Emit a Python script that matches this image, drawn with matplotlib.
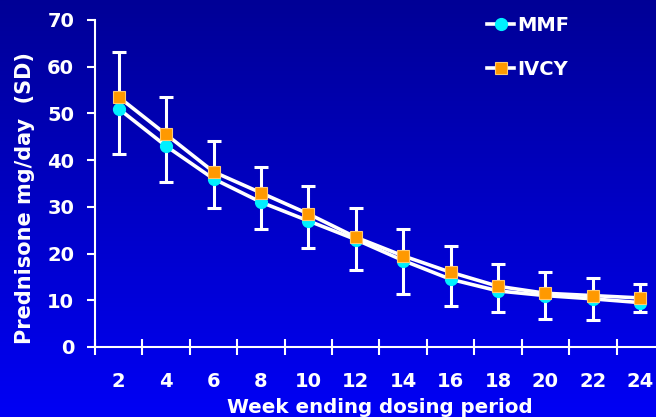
import numpy as np
import matplotlib
matplotlib.use('Agg')
import matplotlib.pyplot as plt

# prednisone dose per week, both treatment arms
weeks = ['2', '4', '6', '8', '10', '12', '14', '16', '18', '20', '22', '24']
mmf = [51, 43, 36, 31, 27, 23, 18.5, 14.5, 12, 11, 10.3, 9.5]
ivcy = [53.5, 45.5, 37.5, 33, 28.5, 23.5, 19.5, 16, 13, 11.5, 11, 10.5]
# SD bars, lower and upper ends
sd_low = [41.3, 35.3, 29.8, 25.3, 21.2, 16.5, 11.3, 8.8, 7.5, 6, 5.8, 7.5]
sd_high = [63.2, 53.5, 44.1, 38.5, 34.5, 29.8, 25.3, 21.6, 17.8, 16, 14.8, 13.5]

fig = plt.figure(figsize=(6.56, 4.17), dpi=100)

# blue gradient background
bg = fig.add_axes([0, 0, 1, 1], zorder=0)
grad = np.linspace(0, 1, 256).reshape(-1, 1)
rgb = np.zeros((256, 1, 3))
rgb[:, :, 2] = (150 + 95 * grad) / 255.0
bg.imshow(rgb, aspect='auto', extent=[0, 1, 0, 1], origin='upper')
bg.axis('off')

ax = fig.add_axes([0.1448, 0.1679, 0.8674, 0.7842], zorder=1)
ax.patch.set_alpha(0)

x = np.arange(1, len(weeks) + 1)
mid = [(lo + hi) / 2 for lo, hi in zip(sd_low, sd_high)]
err = [[m - lo for m, lo in zip(mid, sd_low)], [hi - m for m, hi in zip(mid, sd_high)]]
ax.errorbar(x, mid, yerr=err, fmt='none', ecolor='white', elinewidth=2.2,
            capsize=5, capthick=2.2, zorder=2)

ax.plot(x, mmf, color='white', lw=2.6, marker='o', ms=8.5, mfc='#00F0FF',
        mec='#00F0FF', label='MMF', zorder=3)
ax.plot(x, ivcy, color='white', lw=2.6, marker='s', ms=8.5, mfc='#FF9900',
        mec='#FFC870', mew=0.8, label='IVCY', zorder=4)

ax.set_xlim(0.5, 12.5)
ax.set_ylim(0, 70)
ax.set_yticks(range(0, 71, 10))
ax.set_xticks(np.arange(0.5, 12.6, 1))
ax.set_xticklabels([])
ax.set_xticks(x, minor=True)
ax.set_xticklabels(weeks, minor=True)

for s in ['top', 'right']:
    ax.spines[s].set_visible(False)
for s in ['left', 'bottom']:
    ax.spines[s].set_color('white')
    ax.spines[s].set_linewidth(1.5)

ax.tick_params(axis='y', colors='white', direction='out', length=6, width=1.5,
               pad=9, labelsize=14)
ax.tick_params(axis='x', which='major', colors='white', direction='inout',
               length=11, width=1.5)
ax.tick_params(axis='x', which='minor', colors='white', length=0, pad=18,
               labelsize=14)
for lab in ax.get_yticklabels() + ax.get_xticklabels(minor=True):
    lab.set_fontweight('bold')

ax.set_xlabel('Week ending dosing period', color='white', fontsize=14.3,
              fontweight='bold', labelpad=5)
ax.set_ylabel('Prednisone mg/day  (SD)', color='white', fontsize=15,
              fontweight='bold')
ax.yaxis.set_label_coords(-0.105, 0.455)

leg = ax.legend(loc='upper left', bbox_to_anchor=(487 / 656, 1 - 16 / 417),
                bbox_transform=fig.transFigure, frameon=False, borderpad=0,
                borderaxespad=0, handlelength=1.4, handletextpad=0.15,
                labelspacing=1.3, prop={'size': 14, 'weight': 'bold'})
for t in leg.get_texts():
    t.set_color('white')

fig.savefig('out.png', dpi=100)
